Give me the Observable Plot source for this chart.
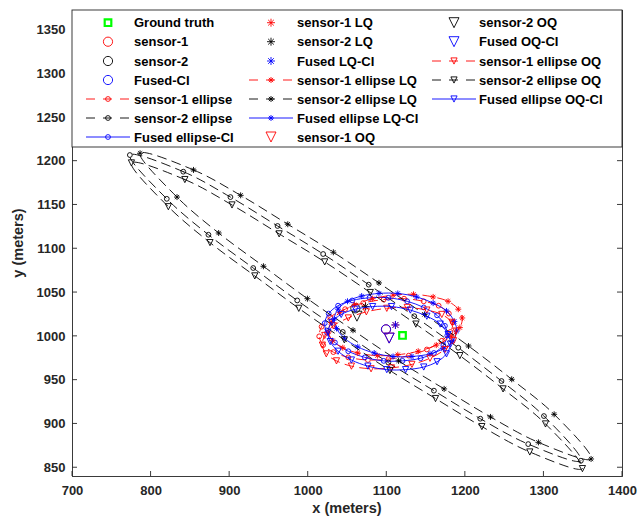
<!DOCTYPE html>
<html><head><meta charset="utf-8">
<script src="https://cdn.jsdelivr.net/npm/d3@7"></script>
<script src="https://cdn.jsdelivr.net/npm/@observablehq/plot@0.6"></script>
<style>body{margin:0;background:#fff}</style>
</head><body><div id="chart"></div>
<script>
// ---------------- data ----------------
const xTicks = [700, 800, 900, 1000, 1100, 1200, 1300, 1400];
const yTicks = [850, 900, 950, 1000, 1050, 1100, 1150, 1200, 1250, 1300, 1350];

const groundTruthX = [1120];
const groundTruthY = [1001];

// point estimates: sensor-1, sensor-2, Fused
const estimateX = [1099, 1060, 1099];
const estimateY = [1008, 1032, 1008];
const lqX = [1111, 1073, 1111];
const lqY = [1013, 1034, 1013];
const oqX = [1103, 1062, 1103];
const oqY = [998, 1023, 998];

// sensor-1 ellipses (red dashed)
const s1EllX = [1184, 1179, 1166, 1147, 1122, 1096, 1070, 1047, 1028, 1017, 1014, 1019, 1032, 1051, 1076, 1102, 1128, 1151, 1170, 1181];
const s1EllY = [1016, 1026, 1035, 1040, 1043, 1042, 1038, 1031, 1022, 1011, 1000, 990, 982, 976, 973, 974, 978, 985, 995, 1005];
const s1EllLqX = [1196, 1191, 1178, 1159, 1134, 1108, 1082, 1059, 1040, 1029, 1026, 1031, 1044, 1063, 1088, 1114, 1140, 1163, 1182, 1193];
const s1EllLqY = [1021, 1031, 1040, 1045, 1048, 1047, 1043, 1036, 1027, 1016, 1005, 995, 987, 981, 978, 979, 983, 990, 1000, 1010];
const s1EllOqX = [1188, 1183, 1170, 1151, 1126, 1100, 1074, 1051, 1032, 1021, 1018, 1023, 1036, 1055, 1080, 1106, 1132, 1155, 1174, 1185];
const s1EllOqY = [1006, 1016, 1025, 1030, 1033, 1032, 1028, 1021, 1012, 1001, 990, 980, 972, 966, 963, 964, 968, 975, 985, 995];

// sensor-2 ellipses (black dashed)
const s2EllX = [773, 841, 901, 961, 1019, 1077, 1135, 1191, 1246, 1300, 1347, 1280, 1219, 1160, 1102, 1044, 986, 930, 873, 820];
const s2EllY = [1207, 1188, 1159, 1126, 1094, 1059, 1023, 987, 949, 909, 858, 877, 906, 938, 970, 1005, 1041, 1078, 1116, 1157];
const s2EllLqX = [786, 854, 914, 974, 1032, 1090, 1148, 1204, 1259, 1313, 1360, 1293, 1232, 1173, 1115, 1057, 999, 943, 886, 833];
const s2EllLqY = [1209, 1190, 1161, 1128, 1096, 1061, 1025, 989, 951, 911, 860, 879, 908, 940, 972, 1007, 1043, 1080, 1118, 1159];
const s2EllOqX = [775, 843, 903, 963, 1021, 1079, 1137, 1193, 1248, 1302, 1349, 1282, 1221, 1162, 1104, 1046, 988, 932, 875, 822];
const s2EllOqY = [1198, 1179, 1150, 1117, 1085, 1050, 1014, 978, 940, 900, 849, 868, 897, 929, 961, 996, 1032, 1069, 1107, 1148];

// fused ellipses (blue solid)
const fEllX = [1177, 1174, 1164, 1147, 1126, 1102, 1078, 1056, 1038, 1026, 1021, 1024, 1034, 1051, 1072, 1096, 1120, 1143, 1160, 1172];
const fEllY = [1001, 1012, 1024, 1033, 1040, 1044, 1044, 1041, 1035, 1026, 1015, 1004, 993, 983, 976, 972, 972, 975, 981, 990];
const fEllLqX = [1189, 1186, 1176, 1159, 1138, 1114, 1090, 1068, 1050, 1038, 1033, 1036, 1046, 1063, 1084, 1108, 1132, 1155, 1172, 1184];
const fEllLqY = [1006, 1017, 1029, 1038, 1045, 1049, 1049, 1046, 1040, 1031, 1020, 1009, 998, 988, 981, 977, 977, 980, 986, 995];
const fEllOqX = [1181, 1178, 1168, 1151, 1130, 1106, 1082, 1060, 1042, 1030, 1025, 1028, 1038, 1055, 1076, 1100, 1124, 1147, 1164, 1176];
const fEllOqY = [991, 1002, 1014, 1023, 1030, 1034, 1034, 1031, 1025, 1016, 1005, 994, 983, 973, 966, 962, 962, 965, 971, 980];

const legendLabels = [
  "Ground truth", "sensor-1", "sensor-2", "Fused-CI", "sensor-1 ellipse", "sensor-2 ellipse", "Fused ellipse-CI",
  "sensor-1 LQ", "sensor-2 LQ", "Fused LQ-CI", "sensor-1 ellipse LQ", "sensor-2 ellipse LQ", "Fused ellipse LQ-CI", "sensor-1 OQ",
  "sensor-2 OQ", "Fused OQ-CI", "sensor-1 ellipse OQ", "sensor-2 ellipse OQ", "Fused ellipse OQ-CI"
];

// ---------------- symbols ----------------
const circleSym = {draw(c, s) { const r = Math.sqrt(s / Math.PI); c.moveTo(r, 0); c.arc(0, 0, r, 0, 2 * Math.PI); }};
const starSym = {draw(c, s) { const r = Math.sqrt(s / Math.PI), d = r * 0.7071;
  c.moveTo(-r, 0); c.lineTo(r, 0); c.moveTo(0, -r); c.lineTo(0, r);
  c.moveTo(-d, -d); c.lineTo(d, d); c.moveTo(-d, d); c.lineTo(d, -d); }};
const triSym = {draw(c, s) { const r = Math.sqrt(s / Math.PI);
  c.moveTo(-r, -r); c.lineTo(r, -r); c.lineTo(0, r); c.closePath(); }};
const squareSym = {draw(c, s) { const r = Math.sqrt(s / Math.PI); c.rect(-r, -r, 2 * r, 2 * r); }};

const RED = "#ff0000", BLACK = "#000000", BLUE = "#0000ff", GREEN = "#00ff00";
const DASH = "9,6";
const LEG_DASH = "9,8";
const rows = (X, Y) => X.map((x, i) => ({x, y: Y[i]}));
const pt = (X, Y, i) => [{x: X[i], y: Y[i]}];

// series in legend (and drawing) order
const series = [
  {pts: rows(groundTruthX, groundTruthY), color: GREEN, sym: squareSym, r: 3.3, sw: 2.2},
  {pts: pt(estimateX, estimateY, 0), color: RED, sym: circleSym, r: 4.6},
  {pts: pt(estimateX, estimateY, 1), color: BLACK, sym: circleSym, r: 4.6},
  {pts: pt(estimateX, estimateY, 2), color: BLUE, sym: circleSym, r: 4.6},
  {pts: rows(s1EllX, s1EllY), color: RED, sym: circleSym, r: 2.4, line: DASH},
  {pts: rows(s2EllX, s2EllY), color: BLACK, sym: circleSym, r: 2.4, line: DASH},
  {pts: rows(fEllX, fEllY), color: BLUE, sym: circleSym, r: 2.4, line: "none"},
  {pts: pt(lqX, lqY, 0), color: RED, sym: starSym, r: 4},
  {pts: pt(lqX, lqY, 1), color: BLACK, sym: starSym, r: 4},
  {pts: pt(lqX, lqY, 2), color: BLUE, sym: starSym, r: 4},
  {pts: rows(s1EllLqX, s1EllLqY), color: RED, sym: starSym, r: 3, line: DASH},
  {pts: rows(s2EllLqX, s2EllLqY), color: BLACK, sym: starSym, r: 3, line: DASH},
  {pts: rows(fEllLqX, fEllLqY), color: BLUE, sym: starSym, r: 3, line: "none"},
  {pts: pt(oqX, oqY, 0), color: RED, sym: triSym, r: 5},
  {pts: pt(oqX, oqY, 1), color: BLACK, sym: triSym, r: 5},
  {pts: pt(oqX, oqY, 2), color: BLUE, sym: triSym, r: 5},
  {pts: rows(s1EllOqX, s1EllOqY), color: RED, sym: triSym, r: 3.1, line: DASH},
  {pts: rows(s2EllOqX, s2EllOqY), color: BLACK, sym: triSym, r: 3.1, line: DASH},
  {pts: rows(fEllOqX, fEllOqY), color: BLUE, sym: triSym, r: 3.1, line: "none"}
];

// ---------------- plot ----------------
const W = 639, H = 521;
const M = {left: 72, right: 17, top: 10, bottom: 45};
const FONT = "'Liberation Sans', Arial, Helvetica, sans-serif";
const AX = "#262626";

const marksOrdered = [];
for (const s of series) {
  if (s.line) marksOrdered.push(Plot.line(s.pts, {x: "x", y: "y", curve: "catmull-rom-closed", stroke: s.color,
      strokeWidth: 0.9, strokeDasharray: s.line === "none" ? null : s.line}));
  marksOrdered.push(Plot.dot(s.pts, {x: "x", y: "y", symbol: s.sym, r: s.r, stroke: s.color, fill: "none",
      strokeWidth: s.sw || 0.9}));
}

const chart = Plot.plot({
  width: W, height: H,
  marginLeft: M.left, marginRight: M.right, marginTop: M.top, marginBottom: M.bottom,
  style: {fontFamily: FONT, fontSize: "13px", fontWeight: "bold", color: AX, background: "#fff"},
  x: {domain: [700, 1400]},
  y: {domain: [840, 1372]},
  marks: [
    ...marksOrdered,
    Plot.axisX({ticks: xTicks, tickSize: 0, tickPadding: 9, tickFormat: d => String(d), label: null, fontSize: 13}),
    Plot.axisY({ticks: yTicks, tickSize: 0, tickPadding: 7, tickFormat: d => String(d), label: null, fontSize: 13}),
    Plot.frame({stroke: AX, strokeWidth: 0.9})
  ]
});

const svg = d3.select(chart);
const xs = chart.scale("x"), ys = chart.scale("y");
const x0 = M.left, x1 = W - M.right, y0 = M.top, y1 = H - M.bottom;
const tk = svg.append("g").attr("stroke", AX).attr("stroke-width", 0.9);
for (const v of xTicks) {
  const px = xs.apply(v);
  tk.append("line").attr("x1", px).attr("x2", px).attr("y1", y1).attr("y2", y1 - 5);
}
for (const v of yTicks) {
  const py = ys.apply(v);
  tk.append("line").attr("x1", x0).attr("x2", x0 + 5).attr("y1", py).attr("y2", py);
  tk.append("line").attr("x1", x1).attr("x2", x1 - 5).attr("y1", py).attr("y2", py);
}

// axis labels
svg.append("text").attr("x", (x0 + x1) / 2).attr("y", 508).attr("text-anchor", "middle")
  .attr("dominant-baseline", "central").attr("font-size", 14.5).attr("font-weight", "bold")
  .attr("fill", AX).text("x (meters)");
svg.append("text").attr("transform", `translate(18,${(y0 + y1) / 2}) rotate(-90)`).attr("text-anchor", "middle")
  .attr("dominant-baseline", "central").attr("font-size", 14.5).attr("font-weight", "bold")
  .attr("fill", AX).text("y (meters)");

// legend (inside axes, top)
const legBottom = 147;
const lg = svg.append("g");
lg.append("rect").attr("x", x0).attr("y", y0).attr("width", x1 - x0).attr("height", legBottom - y0)
  .attr("fill", "#fff").attr("stroke", AX).attr("stroke-width", 0.9);
const colLine1 = [86, 249, 432], colLine2 = [130, 293, 476], colMark = [108, 271, 454], colText = [134, 297, 479];
const rowY = [22.7, 41.7, 61, 80, 99, 118, 137];
series.forEach((s, i) => {
  const c = Math.floor(i / 7), r = i % 7, yy = rowY[r];
  if (s.line) {
    lg.append("line").attr("x1", colLine1[c]).attr("x2", colLine2[c]).attr("y1", yy).attr("y2", yy)
      .attr("stroke", s.color).attr("stroke-width", 0.9)
      .attr("stroke-dasharray", s.line === "none" ? null : LEG_DASH);
  }
  const p = d3.path();
  s.sym.draw(p, s.r * s.r * Math.PI);
  lg.append("path").attr("d", p.toString()).attr("transform", `translate(${colMark[c]},${yy})`)
    .attr("fill", "none").attr("stroke", s.color)
    .attr("stroke-width", s.sw || 0.9);
  lg.append("text").attr("x", colText[c]).attr("y", yy).attr("text-anchor", "start").attr("dominant-baseline", "central")
    .attr("font-size", 13).attr("font-weight", "bold").attr("fill", "#000").text(legendLabels[i]);
});

document.getElementById("chart").appendChild(chart);
</script></body></html>
